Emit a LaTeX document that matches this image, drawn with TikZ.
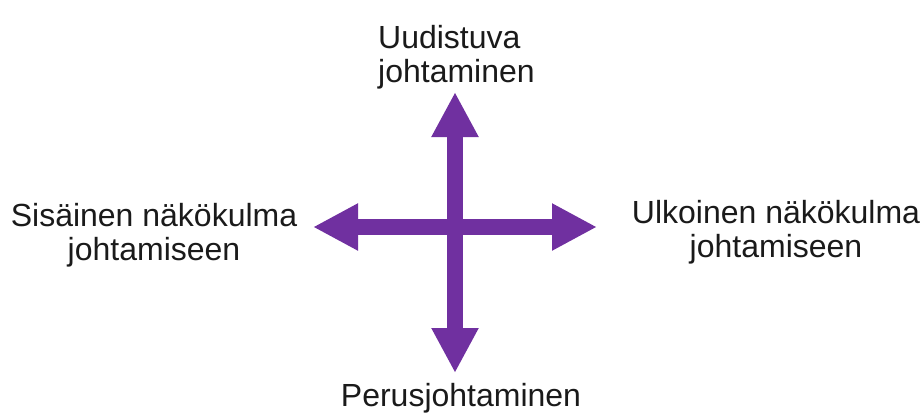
\documentclass[tikz,border=0pt]{standalone}
\usepackage{fontspec}
\setmainfont{Liberation Sans}
\usetikzlibrary{arrows.meta}
\definecolor{arrowpurple}{HTML}{7030A0}
\definecolor{labeltext}{HTML}{1A1A1A}
\tikzset{
  arr/.style={draw=arrowpurple, fill=arrowpurple, line width=16pt,
    {Triangle[width=44pt,length=45pt]}-{Triangle[width=44pt,length=45pt]}},
  lbl/.style={inner sep=0pt, text=labeltext,
    font=\fontsize{32pt}{34pt}\selectfont}
}
\begin{document}
\begin{tikzpicture}[x=1pt,y=-1pt]
\useasboundingbox (0,0) rectangle (922,416);
\coordinate (n) at (455,92);
\coordinate (s) at (455,373);
\coordinate (w) at (313,227);
\coordinate (e) at (597,227);
\draw[arr] (w) -- (e);
\draw[arr] (n) -- (s);
\node[lbl, anchor=base west, align=left] (top) at (378,82) {Uudistuva\\johtaminen};
\node[lbl, anchor=base, align=center] (left) at (154,260) {Sisäinen näkökulma\\johtamiseen};
\node[lbl, anchor=base, align=center] (right) at (776,257) {Ulkoinen näkökulma\\johtamiseen};
\node[lbl, anchor=base] (bottom) at (461,406) {Perusjohtaminen};
\end{tikzpicture}
\end{document}
